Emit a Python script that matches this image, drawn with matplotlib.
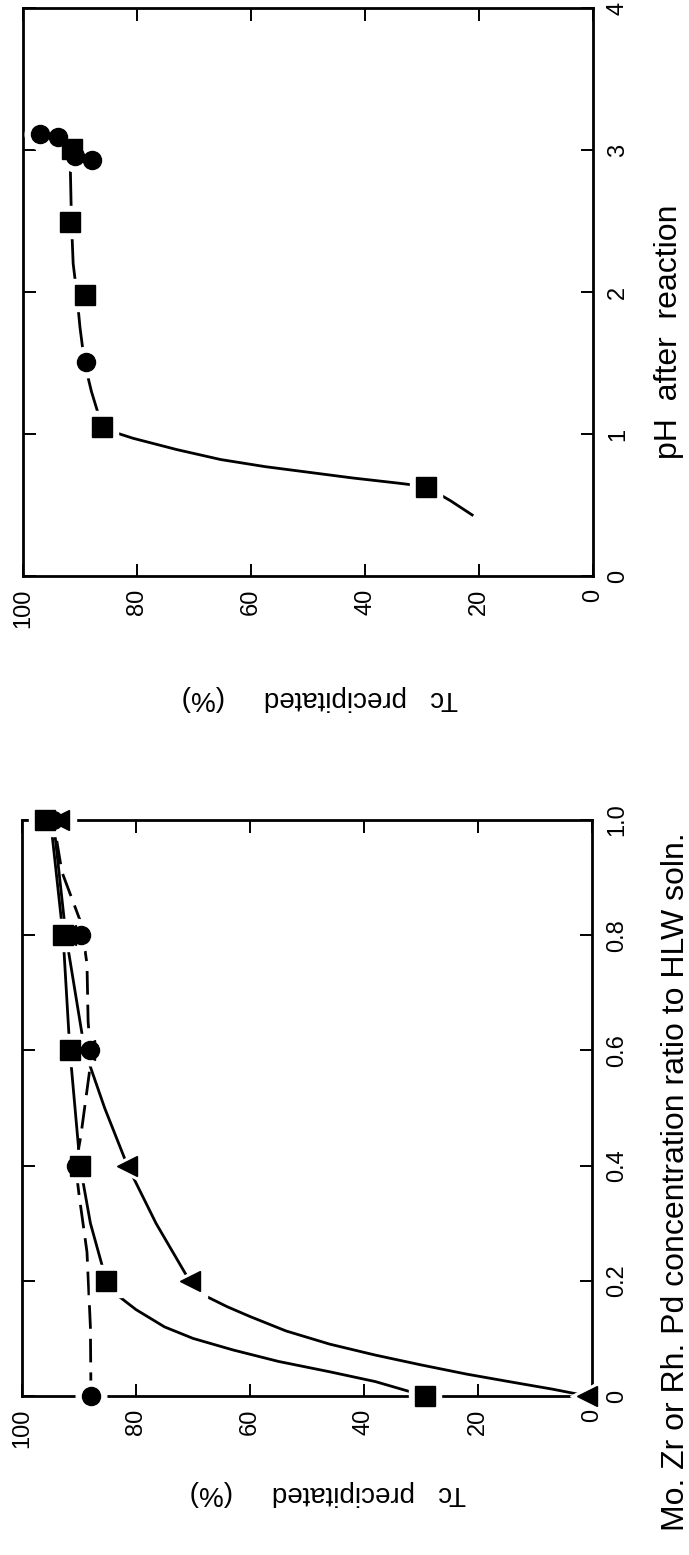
import matplotlib
matplotlib.use("Agg")
import matplotlib.pyplot as plt

# ---- top panel: Tc precipitated (%) vs pH after reaction ----
top_sq_tc = [91.4, 91.8, 89.2, 86.1, 29.3]
top_sq_ph = [3.01, 2.49, 1.98, 1.05, 0.63]
top_ci_tc = [97.0, 93.9, 90.9, 87.9, 89.0]
top_ci_ph = [3.11, 3.09, 2.96, 2.93, 1.51]
# guide curve
top_line_tc = [91.7, 91.5, 91.2, 90.6, 90.0, 89.2, 88.0, 86.1, 83.8, 80.7, 73.0,
               65.3, 57.5, 49.8, 42.1, 34.4, 29.3, 25.0, 21.2]
top_line_ph = [2.88, 2.50, 2.20, 2.00, 1.75, 1.50, 1.30, 1.05, 1.01, 0.97, 0.89,
               0.82, 0.77, 0.73, 0.69, 0.655, 0.63, 0.53, 0.43]

# ---- bottom panel: Tc precipitated (%) vs concentration ratio ----
bot_sq_r = [0.0, 0.2, 0.4, 0.6, 0.8, 1.0]
bot_sq_tc = [29.3, 85.2, 89.8, 91.5, 92.8, 96.0]
bot_tri_r = [0.0, 0.2, 0.4, 0.6, 0.8, 1.0]
bot_tri_tc = [0.8, 70.6, 81.5, 89.0, 92.3, 93.5]
bot_ci_r = [0.0, 0.4, 0.6, 0.8, 1.0]
bot_ci_tc = [87.9, 90.6, 88.0, 89.6, 94.5]

sq_line_tc = [95.0, 92.8, 91.6, 89.8, 88.0, 85.2, 83.4, 80.0, 75.0, 70.0, 63.0,
              55.0, 46.0, 38.0, 29.3]
sq_line_r = [1.0, 0.8, 0.6, 0.4, 0.3, 0.2, 0.176, 0.150, 0.120, 0.100, 0.080,
             0.060, 0.042, 0.025, 0.0]
tri_line_tc = [94.5, 92.3, 89.0, 85.5, 81.5, 76.5, 70.6, 68.3, 64.0, 60.0, 53.7,
               46.0, 38.0, 30.0, 22.0, 14.0, 7.0, 0.8]
tri_line_r = [1.0, 0.8, 0.6, 0.5, 0.4, 0.3, 0.2, 0.176, 0.155, 0.138, 0.113,
              0.090, 0.071, 0.054, 0.038, 0.024, 0.012, 0.0]
ci_line_tc = [87.9, 88.0, 88.6, 90.0, 90.6, 89.7, 88.2, 88.0, 88.4, 88.6, 89.6, 93.0, 94.5]
ci_line_r = [0.0, 0.12, 0.25, 0.35, 0.40, 0.45, 0.56, 0.60, 0.65, 0.75, 0.82, 0.91, 1.0]

tc_ticks = [0, 20, 40, 60, 80, 100]
ph_ticks = [0, 1, 2, 3, 4]
ratio_ticks = [0, 0.2, 0.4, 0.6, 0.8, 1.0]
ratio_labels = ["0", "0.2", "0.4", "0.6", "0.8", "1.0"]

plt.rcParams['font.family'] = ['Liberation Sans', 'DejaVu Sans']

W, H = 689, 1555
fig = plt.figure(figsize=(W / 100, H / 100), dpi=100)


def px_axes(x0, y0, x1, y1):
    return fig.add_axes([x0 / W, 1 - y1 / H, (x1 - x0) / W, (y1 - y0) / H])


def style(ax):
    for s in ax.spines.values():
        s.set_linewidth(2.0)
    ax.tick_params(direction='in', length=9, width=1.4, top=True, bottom=True,
                   left=True, right=True, labelleft=False, labelright=True,
                   labelbottom=True, labelsize=17)
    ax.tick_params(axis='x', pad=9)
    ax.tick_params(axis='y', pad=10)
    for lab in ax.get_xticklabels():
        lab.set_rotation(90)
        lab.set_va('top')
        lab.set_ha('center')
    for lab in ax.get_yticklabels():
        lab.set_rotation(90)
        lab.set_va('center')
        lab.set_ha('left')


def marks(ax, x, y, m, ms):
    # white halo first so lines and frame break around each mark
    ax.plot(x, y, ls='none', marker=m, ms=ms + 9, color='white', mec='white',
            zorder=3, clip_on=False)
    ax.plot(x, y, ls='none', marker=m, ms=ms, color='black', mec='black',
            zorder=4, clip_on=False)


lw = 2.0

# top panel
ax1 = px_axes(23, 8, 593, 576)
ax1.plot(top_line_tc, top_line_ph, color='black', lw=lw, zorder=2)
marks(ax1, top_sq_tc, top_sq_ph, 's', 14)
marks(ax1, top_ci_tc, top_ci_ph, 'o', 13)
ax1.set_xlim(100, 0)
ax1.set_ylim(0, 4)
ax1.yaxis.tick_right()
ax1.set_xticks(tc_ticks)
ax1.set_yticks(ph_ticks)
style(ax1)
ax1.text(0.52, -0.215, "Tc   precipitated     (%)", transform=ax1.transAxes,
         rotation=180, ha='center', va='center', fontsize=20)

# bottom panel
ax2 = px_axes(22, 820, 592, 1396)
ax2.plot(sq_line_tc, sq_line_r, color='black', lw=lw, zorder=2)
ax2.plot(tri_line_tc, tri_line_r, color='black', lw=lw, zorder=2)
ax2.plot(ci_line_tc, ci_line_r, color='black', lw=lw, zorder=2,
         linestyle=(0, (8.5, 3.6)))
marks(ax2, bot_tri_tc, bot_tri_r, '<', 15)
marks(ax2, bot_ci_tc, bot_ci_r, 'o', 13)
marks(ax2, bot_sq_tc, bot_sq_r, 's', 14)
ax2.set_xlim(100, 0)
ax2.set_ylim(0, 1.0)
ax2.yaxis.tick_right()
ax2.set_xticks(tc_ticks)
ax2.set_yticks(ratio_ticks)
ax2.set_yticklabels(ratio_labels)
style(ax2)
ax2.text(0.536, -0.168, "Tc   precipitated     (%)", transform=ax2.transAxes,
         rotation=180, ha='center', va='center', fontsize=20)

fig.text(669 / W, 1 - 332 / H, "pH  after  reaction", rotation=90,
         ha='center', va='center', fontsize=23)
fig.text(676 / W, 1 - 1182 / H, "Mo. Zr or Rh. Pd concentration ratio to HLW soln.",
         rotation=90, ha='center', va='center', fontsize=23)

fig.savefig("out.png", dpi=100)
